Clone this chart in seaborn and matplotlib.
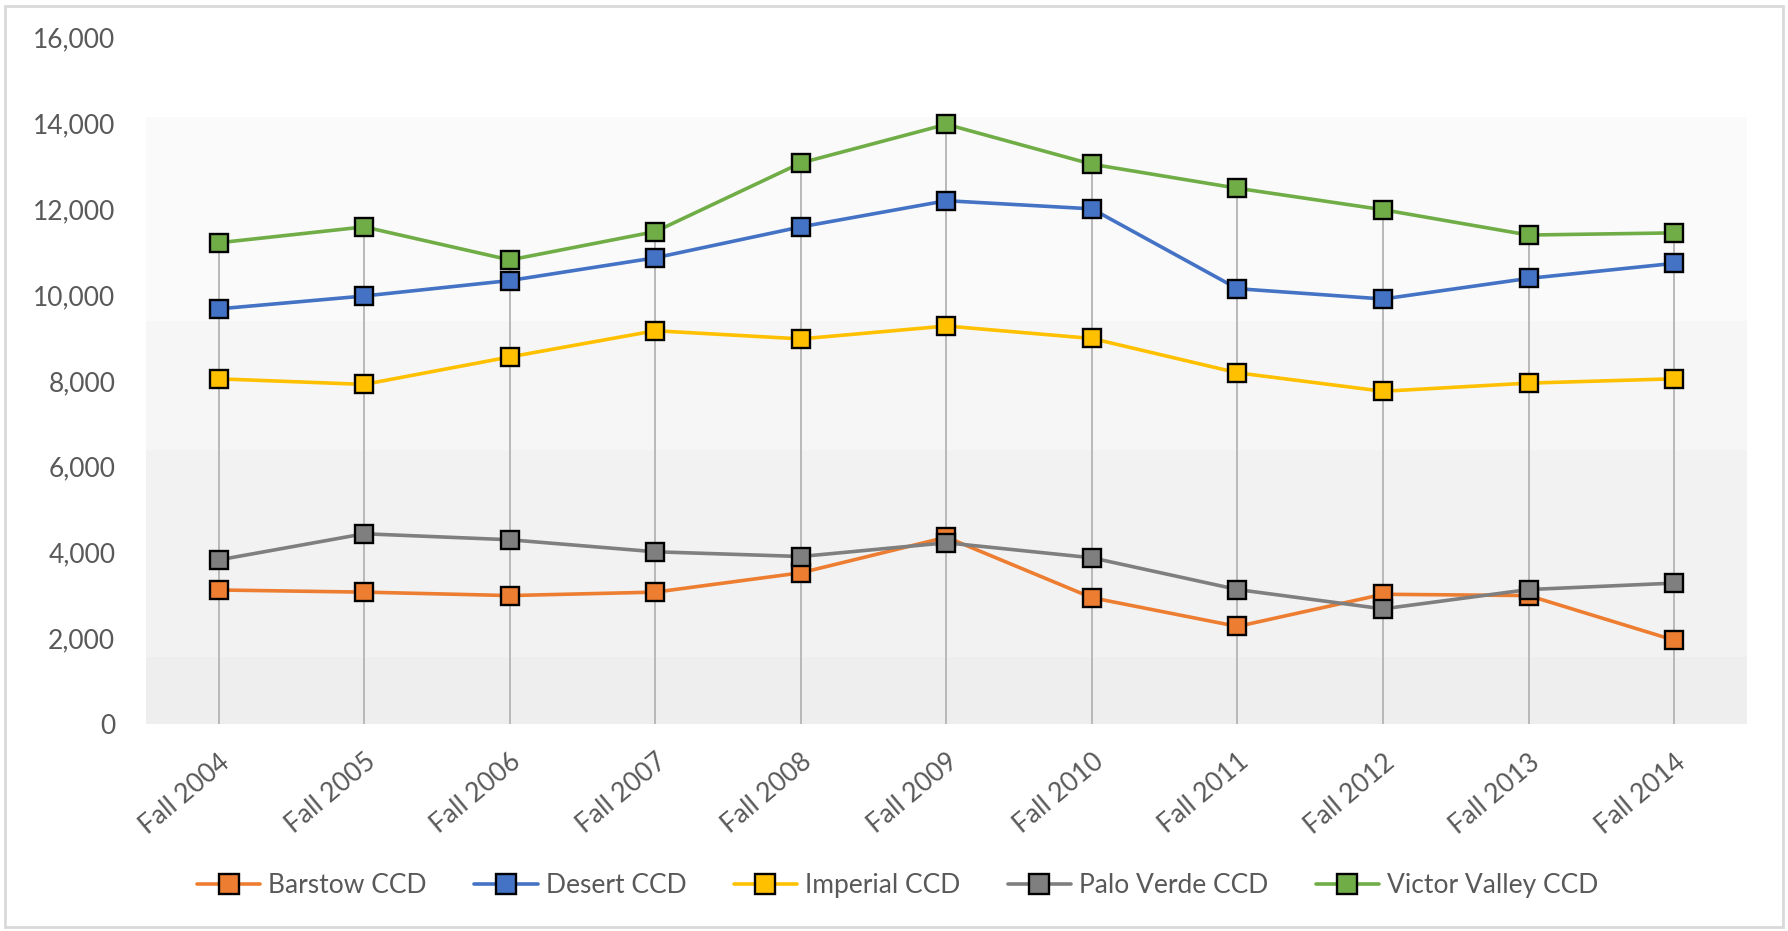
import numpy as np
import pandas as pd
import seaborn as sns
import matplotlib.pyplot as plt
from matplotlib.patches import Rectangle

terms = ["Fall 2004", "Fall 2005", "Fall 2006", "Fall 2007", "Fall 2008", "Fall 2009",
         "Fall 2010", "Fall 2011", "Fall 2012", "Fall 2013", "Fall 2014"]
barstow = [3130, 3080, 3000, 3080, 3530, 4360, 2950, 2280, 3030, 3000, 1960]
desert = [9680, 9980, 10340, 10870, 11590, 12200, 12010, 10150, 9910, 10390, 10740]
imperial = [8050, 7920, 8560, 9170, 8980, 9280, 8990, 8190, 7760, 7950, 8050]
palo_verde = [3830, 4440, 4300, 4020, 3910, 4230, 3880, 3140, 2690, 3140, 3290]
victor_valley = [11220, 11590, 10820, 11480, 13080, 13980, 13050, 12490, 11990, 11400, 11450]

series = {
    "Barstow CCD": barstow,
    "Desert CCD": desert,
    "Imperial CCD": imperial,
    "Palo Verde CCD": palo_verde,
    "Victor Valley CCD": victor_valley,
}
colors = ["#ED7D31", "#4472C4", "#FFC000", "#7F7F7F", "#70AD47"]

sns.set_style("white")
plt.rcParams['font.family'] = ['Lato', 'DejaVu Sans']

fig = plt.figure(figsize=(17.88, 9.31), dpi=100)
ax = fig.add_axes([0.0816, 0.222, 0.8954, 0.7376])

# banded gradient plot area (Excel-style)
bands = [(14150, 9400, "#fafafa"), (9400, 6400, "#f6f6f6"),
         (6400, 1560, "#f2f2f2"), (1560, 0, "#eeeeee")]
for top, bot, c in bands:
    ax.axhspan(bot, top, color=c, lw=0, zorder=0)

x = np.arange(len(terms))
tops = np.max(np.array(list(series.values())), axis=0)
ax.vlines(x, 0, tops, color="#b4b4b4", lw=1.3, zorder=1)

for (name, vals), c in zip(series.items(), colors):
    df = pd.DataFrame({"x": x, "y": vals})
    sns.lineplot(data=df, x="x", y="y", ax=ax, color=c, lw=2.6, marker="s",
                 markersize=12.5, markeredgecolor="black", markeredgewidth=1.7,
                 markerfacecolor=c, label=name, zorder=3)

ax.set_xlim(-0.5, len(terms) - 0.5)
ax.set_ylim(0, 16000)
ax.set_yticks(range(0, 16001, 2000))
ax.set_yticklabels([f"{v:,}" for v in range(0, 16001, 2000)])
ax.set_xticks(x)
ax.set_xticklabels(terms, rotation=40, ha="right", rotation_mode="anchor")
ax.tick_params(axis="y", length=0, pad=22, labelsize=19, labelcolor="#595959")
ax.tick_params(axis="x", length=0, pad=18, labelsize=19, labelcolor="#595959")
ax.set_xlabel("")
ax.set_ylabel("")
for s in ax.spines.values():
    s.set_visible(False)

ax.legend(loc="center", bbox_to_anchor=(0.502, 0.049), bbox_transform=fig.transFigure,
          ncol=5, frameon=False, fontsize=19, handlelength=2.4, columnspacing=1.8,
          handletextpad=0.3, labelcolor="#595959", markerscale=1.1)

fig.patches.append(Rectangle((0.003, 0.004), 0.994, 0.99, transform=fig.transFigure,
                             fill=False, edgecolor="#d9d9d9", lw=2))

fig.savefig("out.png", dpi=100, facecolor="white")
